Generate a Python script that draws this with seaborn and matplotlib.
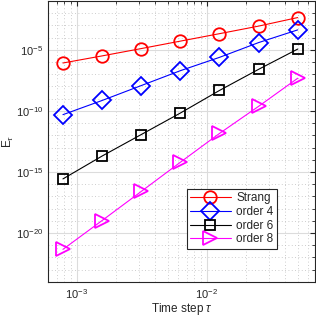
import numpy as np
import pandas as pd
import seaborn as sns
import matplotlib.pyplot as plt
from matplotlib.ticker import FixedLocator, NullFormatter

# time steps and errors (log10)
tau = [0.00078125, 0.0015625, 0.003125, 0.00625, 0.0125, 0.025, 0.05]
log_strang = [-6.08, -5.50, -4.90, -4.29, -3.68, -3.06, -2.36]
log_order4 = [-10.31, -9.15, -7.93, -6.71, -5.62, -4.41, -3.37]
log_order6 = [-15.57, -13.70, -11.94, -10.18, -8.33, -6.60, -4.94]
log_order8 = [-21.34, -18.98, -16.60, -14.21, -11.85, -9.63, -7.33]

labels = ["Strang", "order 4", "order 6", "order 8"]
series = [log_strang, log_order4, log_order6, log_order8]
colors = ["#ff0000", "#0000ff", "#000000", "#ff00ff"]
markers = ["o", "D", "s", ">"]
msizes = [9, 9, 7.5, 10]

sns.set_style("white")
plt.rcParams["font.family"] = ["Liberation Sans", "DejaVu Sans"]
plt.rcParams["mathtext.fontset"] = "custom"
plt.rcParams["mathtext.rm"] = "Liberation Sans"
plt.rcParams["mathtext.it"] = "Liberation Sans:italic"

fig = plt.figure(figsize=(3.16, 3.16), dpi=100)
ax = fig.add_axes([0.152, 0.108, 0.845, 0.889])

for lab, vals, c, m, ms in zip(labels, series, colors, markers, msizes):
    df = pd.DataFrame({"tau": tau, "err": 10.0 ** np.array(vals)})
    sns.lineplot(data=df, x="tau", y="err", ax=ax, color=c, marker=m,
                 markersize=ms, markerfacecolor="none", markeredgecolor=c,
                 markeredgewidth=1.3, linewidth=0.8, label=lab)

ax.set_xscale("log")
ax.set_yscale("log")
ax.set_xlim(6.0e-4, 6.8e-2)
ax.set_ylim(1e-24, 1e-1)

ax.yaxis.set_major_locator(FixedLocator([1e-20, 1e-15, 1e-10, 1e-5]))
ax.yaxis.set_minor_locator(FixedLocator([10.0 ** k for k in range(-24, 0)]))
ax.yaxis.set_minor_formatter(NullFormatter())
ax.xaxis.set_major_locator(FixedLocator([1e-3, 1e-2]))
xminor = [m * 10.0 ** k for k in (-4, -3, -2) for m in range(2, 10)]
ax.xaxis.set_minor_locator(FixedLocator(xminor))
ax.xaxis.set_minor_formatter(NullFormatter())

ax.grid(True, which="major", color="#dcdcdc", linewidth=0.8, linestyle="-")
ax.grid(True, which="minor", color="#bdbdbd", linewidth=0.6, linestyle=(0, (1, 3)))
ax.set_axisbelow(True)

ax.tick_params(which="both", direction="in", top=True, right=True,
               colors="#262626", labelsize=8)
ax.tick_params(which="major", length=3.5)
ax.tick_params(which="minor", length=2)
for s in ax.spines.values():
    s.set_color("#262626")
    s.set_linewidth(0.8)

ax.set_xlabel(r"Time step $\tau$", fontsize=8.5, color="#262626", labelpad=0)
ax.set_ylabel(r"E$_\tau$", fontsize=8.5, color="#262626", labelpad=0)

leg = ax.legend(loc="lower left", bbox_to_anchor=(0.52, 0.117), fontsize=8.5,
                fancybox=False, edgecolor="#262626", framealpha=1,
                handlelength=3.4, borderpad=0.3, labelspacing=0.15,
                handletextpad=0.5, borderaxespad=0)
leg.get_frame().set_linewidth(0.8)

fig.savefig("out.png", dpi=100)
